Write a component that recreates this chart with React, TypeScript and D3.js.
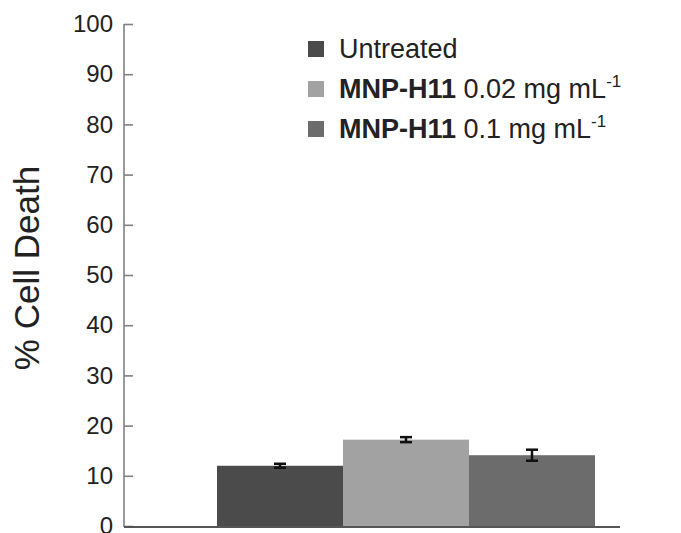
import React, { useRef, useEffect } from "react";
import * as d3 from "d3";

const groups = ["Untreated", "MNP-H11 0.02", "MNP-H11 0.1"];
const values = [12.0, 17.2, 14.1];
const errors = [0.4, 0.5, 1.1];
const colors = ["#4b4b4b", "#a2a2a2", "#6c6c6c"];
const yTicks = [0, 10, 20, 30, 40, 50, 60, 70, 80, 90, 100];
const legendBold = ["", "MNP-H11", "MNP-H11"];
const legendRest = ["Untreated", "0.02 mg mL", "0.1 mg mL"];
const legendSup = ["", "-1", "-1"];

function App() {
  const svgRef = useRef<SVGSVGElement>(null);
  const width = 681;
  const height = 533;
  const axisX = 124;
  const baseY = 527;

  useEffect(() => {
    const svg = d3.select(svgRef.current);
    svg.selectAll("*").remove();
    const font = "'Liberation Sans', Arial, sans-serif";

    const y = d3.scaleLinear().domain([0, 100]).range([526, 24]);
    const x = d3.scaleBand().domain(groups).range([217, 595]).paddingInner(0);

    // bars
    svg.append("g")
      .selectAll("rect")
      .data(groups)
      .join("rect")
      .attr("x", d => x(d)!)
      .attr("width", x.bandwidth())
      .attr("y", (d, i) => y(values[i]))
      .attr("height", (d, i) => baseY - y(values[i]))
      .attr("fill", (d, i) => colors[i]);

    // error bars
    const err = svg.append("g").attr("stroke", "#111").attr("stroke-width", 2.5);
    groups.forEach((g, i) => {
      const cx = x(g)! + x.bandwidth() / 2;
      const cap = 6;
      err.append("line").attr("x1", cx).attr("x2", cx)
        .attr("y1", y(values[i] + errors[i])).attr("y2", y(values[i] - errors[i]));
      err.append("line").attr("x1", cx - cap).attr("x2", cx + cap)
        .attr("y1", y(values[i] + errors[i])).attr("y2", y(values[i] + errors[i]));
      err.append("line").attr("x1", cx - cap).attr("x2", cx + cap)
        .attr("y1", y(values[i] - errors[i])).attr("y2", y(values[i] - errors[i]));
    });

    // y axis, ticks pointing inward
    const yAxis = d3.axisLeft(y).tickValues(yTicks).tickSize(-9).tickSizeOuter(0).tickPadding(11);
    const ga = svg.append("g")
      .attr("transform", `translate(${axisX},0)`)
      .call(yAxis);
    ga.select(".domain").attr("stroke", "#808080").attr("stroke-width", 1.6)
      .attr("d", `M0,${y(100)}V${baseY}`);
    ga.selectAll(".tick line").attr("stroke", "#808080").attr("stroke-width", 1.6);
    ga.selectAll(".tick text")
      .attr("font-family", font)
      .attr("font-size", 24)
      .attr("fill", "#222");

    // x baseline
    svg.append("line")
      .attr("x1", axisX).attr("x2", 620)
      .attr("y1", baseY).attr("y2", baseY)
      .attr("stroke", "#555").attr("stroke-width", 2);

    // y label
    svg.append("text")
      .attr("transform", `translate(39,268) rotate(-90)`)
      .attr("text-anchor", "middle")
      .attr("font-family", font)
      .attr("font-size", 35)
      .attr("fill", "#222")
      .text("% Cell Death");

    // legend
    const leg = svg.append("g").attr("font-family", font).attr("font-size", 27).attr("fill", "#222");
    legendRest.forEach((t, i) => {
      const cy = 49 + i * 40;
      leg.append("rect").attr("x", 308).attr("y", cy - 8).attr("width", 16).attr("height", 16)
        .attr("fill", colors[i]);
      const txt = leg.append("text").attr("x", 339).attr("y", cy).attr("dy", "0.35em");
      if (legendBold[i]) {
        txt.append("tspan").attr("font-weight", "bold").text(legendBold[i] + " ");
      }
      txt.append("tspan").text(t);
      if (legendSup[i]) {
        txt.append("tspan").attr("font-size", 17).attr("dy", "-0.7em").text(legendSup[i]);
      }
    });
  }, []);

  return (
    <svg
      ref={svgRef}
      width={width}
      height={height}
      style={{ position: "absolute", left: 0, top: 0, background: "#fff" }}
    ></svg>
  );
}

export default App;
